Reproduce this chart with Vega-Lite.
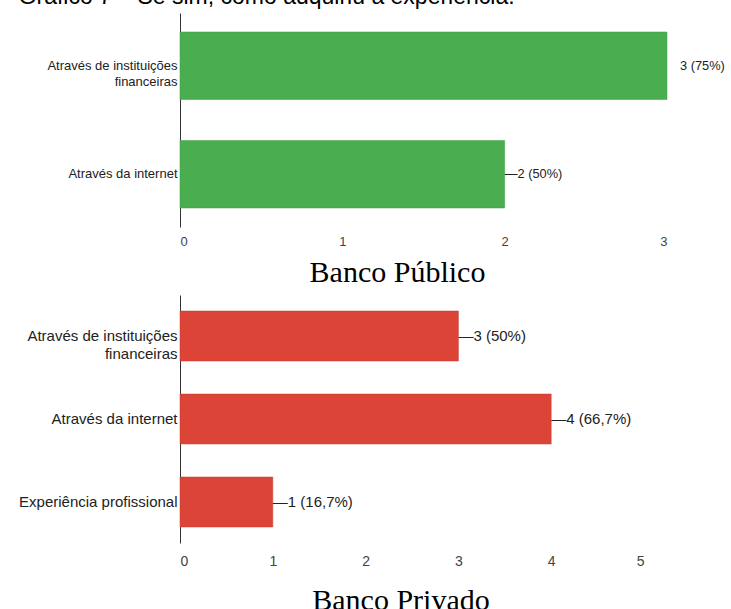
{
  "$schema": "https://vega.github.io/schema/vega-lite/v6.json",
  "padding": {"left": 18, "top": -14, "right": 0, "bottom": 0},
  "background": "white",
  "title": {
    "text": "Gráfico 7 – Se sim, como adquiriu a experiência:",
    "anchor": "start",
    "font": "Liberation Sans",
    "fontSize": 23,
    "fontWeight": "normal",
    "color": "black",
    "offset": 4,
    "frame": "bounds"
  },
  "spacing": 7,
  "config": {
    "view": {"stroke": null},
    "font": "Liberation Sans",
    "axisX": {"domain": false, "ticks": false, "grid": false, "labelColor": "#444", "labelFont": "Liberation Sans", "title": null, "labelPadding": 8, "format": "d"},
    "axisY": {"domain": true, "domainColor": "#333", "domainWidth": 1, "ticks": false, "grid": false, "labelColor": "#222", "labelFont": "Liberation Sans", "title": null, "labelPadding": 3, "labelLimit": 300}
  },
  "vconcat": [
    {
      "width": 487,
      "height": 214,
      "title": {"text": "Banco Público", "orient": "bottom", "font": "Liberation Serif", "fontSize": 30, "fontWeight": "normal", "color": "black", "offset": 10, "dx": -26},
      "data": {"values": [
        {"cat": "Através de instituições financeiras", "value": 3, "label": "3 (75%)"},
        {"cat": "Através da internet", "value": 2, "label": "—2 (50%)"}
      ]},
      "encoding": {
        "y": {"field": "cat", "type": "nominal", "sort": null, "scale": {"paddingInner": 0.378, "paddingOuter": 0.175},
              "axis": {"labelFontSize": 13, "labelLineHeight": 16, "labelExpr": "datum.value == 'Através de instituições financeiras' ? ['Através de instituições', 'financeiras'] : datum.label"}},
        "x": {"field": "value", "type": "quantitative", "scale": {"domain": [0, 3], "nice": false}, "axis": {"values": [0, 1, 2, 3], "labelFontSize": 13}}
      },
      "layer": [
        {"mark": {"type": "bar", "color": "#4aae50", "stroke": "#3f9f45", "strokeWidth": 0.5}},
        {"transform": [{"filter": "datum.value == 3"}], "mark": {"type": "text", "align": "left", "dx": 13, "fontSize": 12.8, "color": "#222"}, "encoding": {"text": {"field": "label"}}},
        {"transform": [{"filter": "datum.value != 3"}], "mark": {"type": "text", "align": "left", "dx": 0, "fontSize": 12.8, "color": "#222"}, "encoding": {"text": {"field": "label"}}}
      ]
    },
    {
      "width": 464,
      "height": 248,
      "title": {"text": "Banco Privado", "orient": "bottom", "font": "Liberation Serif", "fontSize": 30, "fontWeight": "normal", "color": "black", "offset": 18, "dx": -11},
      "data": {"values": [
        {"cat": "Através de instituições financeiras", "value": 3, "label": "—3 (50%)"},
        {"cat": "Através da internet", "value": 4, "label": "—4 (66,7%)"},
        {"cat": "Experiência profissional", "value": 1, "label": "—1 (16,7%)"}
      ]},
      "encoding": {
        "y": {"field": "cat", "type": "nominal", "sort": null, "scale": {"paddingInner": 0.398, "paddingOuter": 0.193},
              "axis": {"labelFontSize": 15, "labelLineHeight": 18, "labelExpr": "datum.value == 'Através de instituições financeiras' ? ['Através de instituições', 'financeiras'] : datum.label"}},
        "x": {"field": "value", "type": "quantitative", "scale": {"domain": [0, 5], "nice": false}, "axis": {"values": [0, 1, 2, 3, 4, 5], "labelFontSize": 14, "labelPadding": 11}}
      },
      "layer": [
        {"mark": {"type": "bar", "color": "#dc4437", "stroke": "#c23a2f", "strokeWidth": 0.5}},
        {"mark": {"type": "text", "align": "left", "dx": 0, "fontSize": 15, "color": "#222"}, "encoding": {"text": {"field": "label"}}}
      ]
    }
  ]
}
